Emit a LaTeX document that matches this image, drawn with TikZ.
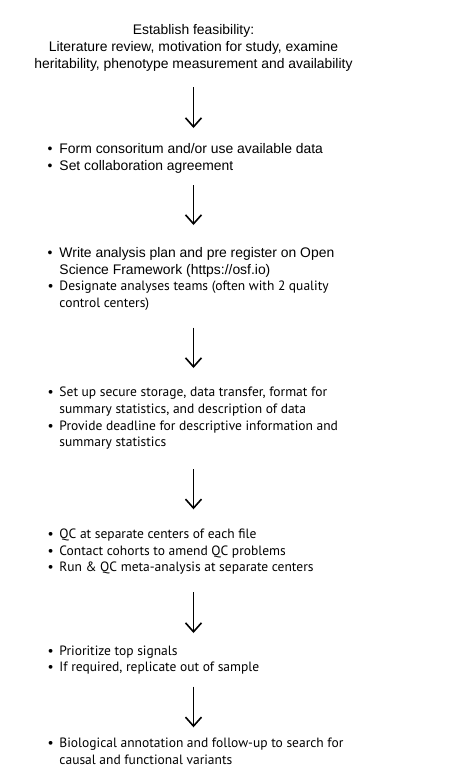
\documentclass[tikz,border=0pt]{standalone}
\usepackage{fontspec}
\setmainfont{Liberation Sans}
\newfontfamily\myr{PT Sans}
\usetikzlibrary{arrows.meta}
\newcommand{\hang}{\makebox[12pt][l]{\textbullet}}
\newcommand{\cont}{\hspace*{12pt}}
\tikzset{
  ar/.style={line width=1.7pt,-{Straight Barb[length=9pt,width=16pt,line width=1.6pt]}},
  ariel/.style={inner sep=0pt,align=left,anchor=base west,font=\fontsize{13.9}{16.7}\selectfont},
  myriad/.style={inner sep=0pt,align=left,anchor=base west,font=\myr\fontsize{13.5}{16.7}\selectfont},
  titlebox/.style={inner sep=0pt,align=center,anchor=base,font=\fontsize{13.9}{17}\selectfont}
}
\begin{document}
\begin{tikzpicture}[x=1pt,y=-1pt]
\useasboundingbox[fill=white] (0,0) rectangle (458,780);
% anchor=base refers to the last line of each block
\node[titlebox] (t) at (193.5,68.3) {Establish feasibility:\\Literature review, motivation for study, examine\\heritability, phenotype measurement and availability};
\node[ariel] (b2) at (47.3,170) {\hang Form consoritum and/or use available data\\\hang Set collaboration agreement};
\node[ariel] (b3a) at (47.3,274) {\hang Write analysis plan and pre register on Open\\\cont Science Framework (https://osf.io)};
\node[myriad] (b3b) at (47.3,307.3) {\hang Designate analyses teams (often with 2 quality\\\cont control centers)};
\node[myriad] (b4) at (47.3,446.7) {\hang Set up secure storage, data transfer, format for\\\cont summary statistics, and description of data\\\hang Provide deadline for descriptive information and\\\cont summary statistics};
\node[myriad] (b5) at (47.3,571.7) {\hang QC at separate centers of each file\\\hang Contact cohorts to amend QC problems\\\hang Run \& QC meta-analysis at separate centers};
\node[myriad] (b6) at (47.3,671.7) {\hang Prioritize top signals\\\hang If required, replicate out of sample};
\node[myriad] (b7) at (47.3,764) {\hang Biological annotation and follow-up to search for\\\cont causal and functional variants};
\coordinate (a1s) at (193.5,87);  \coordinate (a1e) at (193.5,128);
\coordinate (a2s) at (193.5,185); \coordinate (a2e) at (193.5,225);
\coordinate (a3s) at (193.5,327.5); \coordinate (a3e) at (193.5,368);
\coordinate (a4s) at (193.5,469.3); \coordinate (a4e) at (193.5,509.3);
\coordinate (a5s) at (193.5,592); \coordinate (a5e) at (193.5,633);
\coordinate (a6s) at (193.5,686.7); \coordinate (a6e) at (193.5,727.3);
\foreach \i in {1,...,6} \draw[ar] (a\i s) -- (a\i e);
\end{tikzpicture}
\end{document}
